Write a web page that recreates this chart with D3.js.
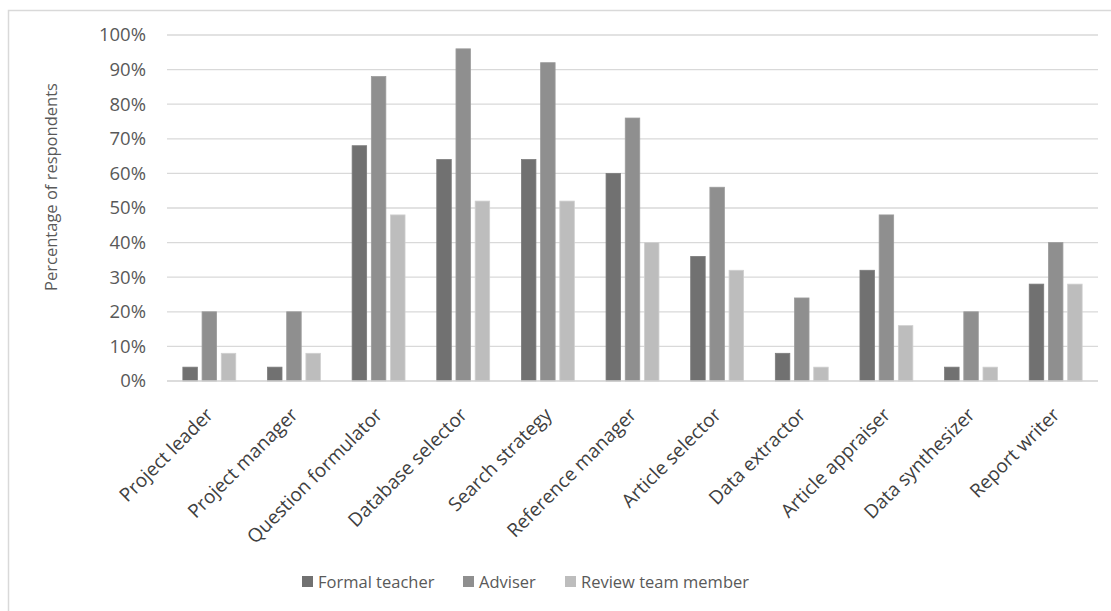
<!DOCTYPE html>
<html>
<head>
<meta charset="utf-8">
<script src="https://cdn.jsdelivr.net/npm/d3@7"></script>
<style>
  html, body { margin: 0; padding: 0; background: #fff; }
  svg { display: block; }
  text { font-family: "Open Sans", "Noto Sans", sans-serif; fill: #595959; }
</style>
</head>
<body>
<svg id="chart" width="1111" height="611"></svg>
<script>
const categories = ["Project leader", "Project manager", "Question formulator", "Database selector",
  "Search strategy", "Reference manager", "Article selector", "Data extractor",
  "Article appraiser", "Data synthesizer", "Report writer"];
const seriesNames = ["Formal teacher", "Adviser", "Review team member"];
const formalTeacher = [4, 4, 68, 64, 64, 60, 36, 8, 32, 4, 28];
const adviser = [20, 20, 88, 96, 92, 76, 56, 24, 48, 20, 40];
const reviewTeamMember = [8, 8, 48, 52, 52, 40, 32, 4, 16, 4, 28];
const yTicks = [0, 10, 20, 30, 40, 50, 60, 70, 80, 90, 100];
const colors = ["#717171", "#8f8f8f", "#bdbdbd"];
const series = [formalTeacher, adviser, reviewTeamMember];

const svg = d3.select("#chart");

// outer chart border
svg.append("rect").attr("x", 8.5).attr("y", 10.5).attr("width", 1120).attr("height", 620)
  .attr("fill", "none").attr("stroke", "#d9d9d9").attr("stroke-width", 1.5);

const plotLeft = 167, plotRight = 1098, plotTop = 35, plotBottom = 381;
const x = d3.scaleBand().domain(categories).range([plotLeft, plotRight]);
const y = d3.scaleLinear().domain([0, 100]).range([plotBottom, plotTop]);

// gridlines
svg.append("g").selectAll("line").data(yTicks.filter(d => d > 0)).join("line")
  .attr("x1", plotLeft).attr("x2", plotRight)
  .attr("y1", d => y(d)).attr("y2", d => y(d))
  .attr("stroke", "#d9d9d9").attr("stroke-width", 1.3);

// y tick labels
const yAxis = d3.axisLeft(y).tickValues(yTicks).tickFormat(d => d + "%").tickSize(0).tickPadding(21);
const gy = svg.append("g").attr("transform", `translate(${plotLeft},0)`).call(yAxis);
gy.select(".domain").remove();
gy.selectAll("text").attr("font-size", 18.5).style("fill", "#595959")
  .attr("font-family", "'Open Sans', sans-serif");

// bars
const barW = 14.5, pitch = 19.2;
series.forEach((vals, si) => {
  svg.append("g").selectAll("rect").data(vals).join("rect")
    .attr("x", (d, i) => x(categories[i]) + x.bandwidth() / 2 + (si - 1) * pitch - barW / 2)
    .attr("y", d => y(d))
    .attr("width", barW)
    .attr("height", d => y(0) - y(d))
    .attr("fill", colors[si])
    .attr("stroke", d3.color(colors[si]).brighter(0.25))
    .attr("stroke-width", 0.8);
});

// x axis line
svg.append("line").attr("x1", plotLeft).attr("x2", plotRight).attr("y1", y(0)).attr("y2", y(0))
  .attr("stroke", "#d0d0d0").attr("stroke-width", 1.5);

// x labels
const xAxis = d3.axisBottom(x).tickSize(0).tickPadding(0);
const gx = svg.append("g").attr("transform", `translate(0,${plotBottom})`).call(xAxis);
gx.select(".domain").remove();
gx.selectAll("text")
  .attr("font-size", 19).style("fill", "#404040")
  .attr("font-family", "'Open Sans', sans-serif")
  .attr("text-anchor", "end")
  .attr("dy", null).attr("y", 0)
  .attr("transform", "translate(5,35) rotate(-45)");

// y axis title
svg.append("text").attr("transform", "translate(57,187) rotate(-90)")
  .attr("text-anchor", "middle").attr("font-size", 16.5).style("fill", "#595959")
  .text("Percentage of respondents");

// legend
const legendX = [302, 463, 565];
const lg = svg.append("g");
seriesNames.forEach((n, i) => {
  lg.append("rect").attr("x", legendX[i]).attr("y", 576).attr("width", 11).attr("height", 11)
    .attr("fill", colors[i]);
  lg.append("text").attr("x", legendX[i] + 16).attr("y", 588).attr("font-size", 16.5)
    .style("fill", "#595959").text(n);
});
</script>
</body>
</html>
